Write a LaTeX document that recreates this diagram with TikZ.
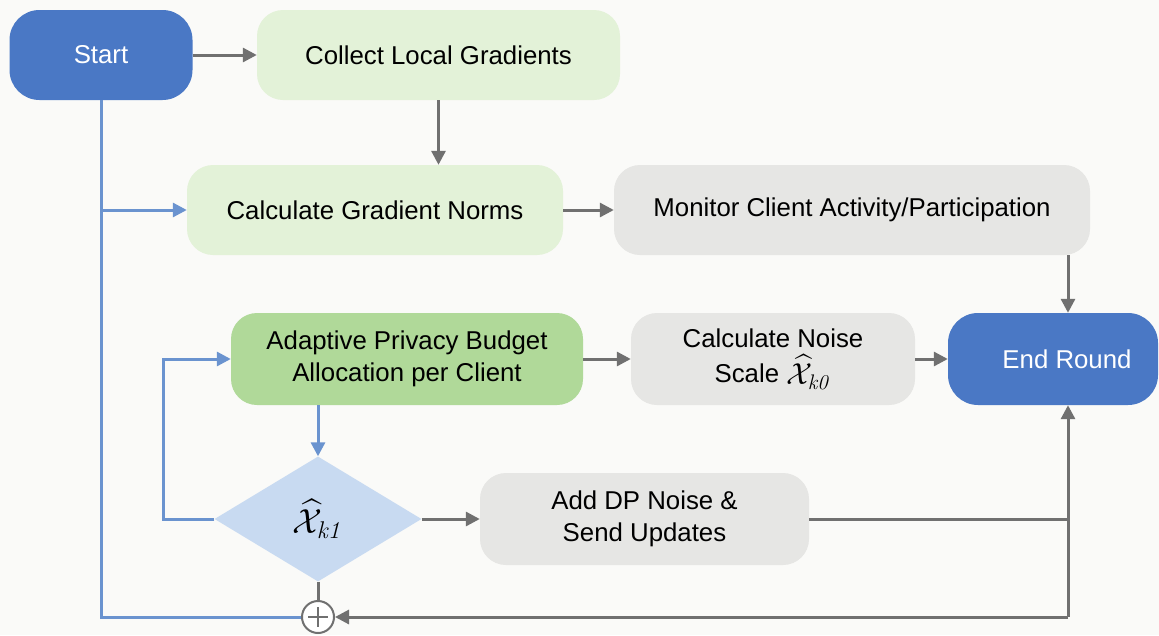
\documentclass[tikz,border=0pt]{standalone}
\usepackage[no-math]{fontspec}
\setmainfont{Liberation Sans}
\usepackage{amsmath}
\usepackage{graphicx}
\usetikzlibrary{shapes.geometric,arrows.meta,calc}
\definecolor{bgc}{HTML}{FAFAF8}
\definecolor{blueb}{HTML}{4A78C5}
\definecolor{lgreen}{HTML}{E3F2D8}
\definecolor{mgreen}{HTML}{B0D999}
\definecolor{lgray}{HTML}{E6E6E4}
\definecolor{dblue}{HTML}{C8DAF1}
\definecolor{gline}{HTML}{707070}
\definecolor{bline}{HTML}{6A93CF}
\newcommand{\mxk}[2]{\raisebox{-0.15ex}{\scalebox{#1}{$\widehat{\mathcal{X}}_{\mathit{#2}}$}}}
\begin{document}
\begin{tikzpicture}[x=1pt,y=-1pt,
  box/.style={rectangle, rounded corners=26pt, draw=none, align=center, inner sep=0pt,
     font=\fontsize{25.8}{32}\selectfont, text=black},
  bluebox/.style={box, fill=blueb, text=white, rounded corners=30pt},
  greenbox/.style={box, fill=lgreen},
  midbox/.style={box, fill=mgreen},
  graybox/.style={box, fill=lgray},
  gconn/.style={draw=gline, line width=3pt},
  garrow/.style={gconn, -{Triangle[length=14pt,width=14pt]}},
  bconn/.style={draw=bline, line width=3pt},
  barrow/.style={bconn, -{Triangle[length=14pt,width=14pt]}}]
\fill[bgc] (0,0) rectangle (1159,635);
\useasboundingbox (0,0) rectangle (1159,635);

\node[bluebox, minimum width=183pt, minimum height=90pt] (start) at (101,55) {Start};
\node[greenbox, minimum width=363pt, minimum height=90pt] (collect) at (438.5,55) {Collect Local Gradients};
\node[greenbox, minimum width=376pt, minimum height=90pt] (norms) at (375,210) {Calculate Gradient Norms};
\node[graybox, minimum width=476pt, minimum height=90pt] (monitor) at (852,210) {Monitor Client Activity/Participation};
\node[midbox, minimum width=352pt, minimum height=92pt] (adapt) at (407,359) {Adaptive Privacy Budget\\Allocation per Client};
\node[graybox, minimum width=284pt, minimum height=92pt, font=\fontsize{25.8}{35}\selectfont] (nscale) at (773,359) {Calculate Noise\\Scale \mxk{1.22}{k0}};
\node[bluebox, minimum width=210pt, minimum height=92pt] (endr) at (1053,359) {\hspace*{28pt}End Round};
\node[diamond, aspect=1.656, fill=dblue, minimum width=207pt, minimum height=125pt, inner sep=0pt,
      font=\fontsize{25.8}{32}\selectfont] (dia) at (318,519) {\mxk{1.4}{k1}};
\node[graybox, minimum width=329pt, minimum height=92pt] (adddp) at (644.5,519) {Add DP Noise \&\\Send Updates};
\node[circle, draw=gline, line width=2pt, fill=white, minimum size=32pt, inner sep=0pt] (sum) at (318,617) {};
\draw[gline, line width=1.8pt] (sum.center) ++(-10,0) -- ++(20,0);
\draw[gline, line width=1.8pt] (sum.center) ++(0,-10) -- ++(0,20);

\coordinate (j1) at (1068,519);
\coordinate (j2) at (1068,617);
\coordinate (lp) at (163,519);

\draw[garrow] (start) -- (collect);
\draw[garrow] (collect.south) -- (collect.south |- norms.north);
\draw[bconn] (start.south) -- (start.south |- sum) -- (sum.west);
\draw[barrow] (start.south |- norms) -- (norms.west);
\draw[garrow] (norms) -- (monitor);
\draw[garrow] (monitor.south -| j1) -- (j1 |- endr.north);
\draw[garrow] (adapt) -- (nscale);
\draw[garrow] (nscale) -- (endr);
\draw[barrow] (dia |- adapt.south) -- (dia.north);
\draw[barrow] (dia.west) -- (lp) |- (adapt.west);
\draw[garrow] (dia.east) -- (adddp.west);
\draw[gconn] (adddp.east) -- (j1);
\draw[garrow] (j2) -- (j2 |- endr.south);
\draw[garrow] (j2) -- (sum.east);
\draw[gconn] (dia.south) -- (sum.north);
\end{tikzpicture}
\end{document}
